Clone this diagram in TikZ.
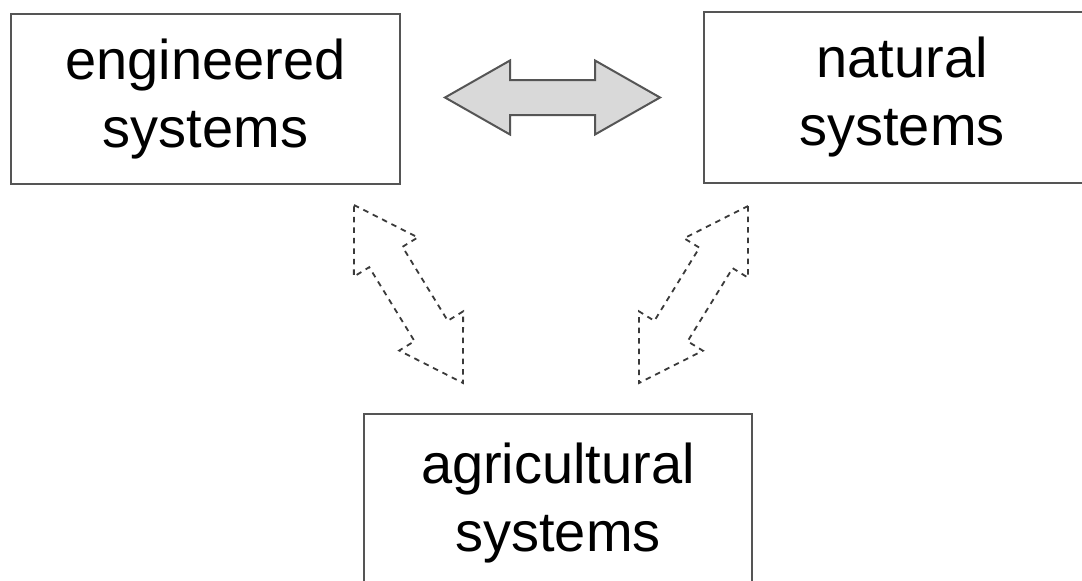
\documentclass[tikz,border=0pt]{standalone}
\usepackage{fontspec}
\setmainfont{Liberation Sans}
\usetikzlibrary{calc}
\definecolor{edgec}{HTML}{555555}
\definecolor{arrowfillc}{HTML}{D9D9D9}
\definecolor{dashc}{HTML}{3A3A3A}
% double block arrow between two named tips: [style]{A}{B}{head length}{head half width}{shaft half width}
\newcommand{\dblblockarrow}[6][]{%
  \draw[#1] (#2)
    -- ($(#2)!#4!(#3)!#5!90:(#3)$)
    -- ($(#2)!#4!(#3)!#6!90:(#3)$)
    -- ($(#3)!#4!(#2)!#6!-90:(#2)$)
    -- ($(#3)!#4!(#2)!#5!-90:(#2)$)
    -- (#3)
    -- ($(#3)!#4!(#2)!#5!90:(#2)$)
    -- ($(#3)!#4!(#2)!#6!90:(#2)$)
    -- ($(#2)!#4!(#3)!#6!-90:(#3)$)
    -- ($(#2)!#4!(#3)!#5!-90:(#3)$)
    -- cycle;}
\begin{document}
\begin{tikzpicture}[x=1pt,y=-1pt,
  sysbox/.style={draw=edgec, line width=2pt, rectangle, inner sep=0pt, align=center,
    font=\fontsize{56}{68}\selectfont},
  grayarrow/.style={fill=arrowfillc, draw=edgec, line width=2pt, line join=miter},
  dasharrow/.style={draw=dashc, line width=1.8pt, dash pattern=on 5.5pt off 5pt, line join=miter}]
\path[use as bounding box, clip] (0,0) rectangle (1082,581);
\fill[white] (0,0) rectangle (1082,581);
\node[sysbox, minimum width=389pt, minimum height=170pt] (eng) at (205.5,99) {engineered\\systems};
\node[sysbox, minimum width=396pt, minimum height=171pt] (nat) at (902,97) {natural\\systems};
\node[sysbox, minimum width=388pt, minimum height=179pt] (agr) at (558,503.5) {agricultural\\systems};
\coordinate (gL) at (445,97.5);
\coordinate (gR) at (660,97.5);
\coordinate (dL1) at (354,205);
\coordinate (dL2) at (463,383);
\coordinate (dR1) at (748,206);
\coordinate (dR2) at (639,383);
\dblblockarrow[grayarrow]{gL}{gR}{65pt}{37pt}{17.5pt}
\dblblockarrow[dasharrow]{dL1}{dL2}{61pt}{37.5pt}{19.5pt}
\dblblockarrow[dasharrow]{dR1}{dR2}{61pt}{37.5pt}{19.5pt}
\end{tikzpicture}
\end{document}
